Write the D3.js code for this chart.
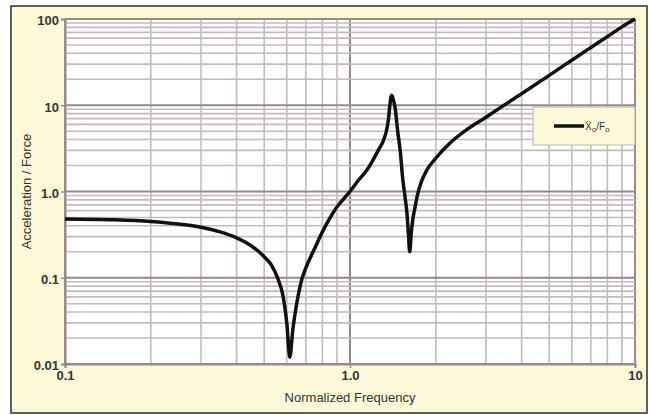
<!DOCTYPE html>
<html>
<head>
<meta charset="utf-8">
<script src="https://cdn.jsdelivr.net/npm/d3@7"></script>
<style>
  body { margin: 0; background: #ffffff; }
  svg { display: block; }
</style>
</head>
<body>
<svg id="chart" width="650" height="415"></svg>
<script>

// Normalized frequency (x) and acceleration / force (y)
const freq = [0.1, 0.15, 0.2, 0.25, 0.3, 0.35, 0.4, 0.45, 0.5, 0.53, 0.56, 0.58, 0.6, 0.615,
    0.63, 0.65, 0.677, 0.7, 0.75, 0.8, 0.85, 0.9, 0.95, 1.0, 1.07, 1.15, 1.22, 1.27, 1.31, 1.345,
    1.365, 1.38, 1.40, 1.415, 1.44, 1.47, 1.50, 1.53, 1.56, 1.585, 1.605, 1.62, 1.64, 1.66,
    1.69, 1.72, 1.78, 1.86, 2.0, 2.24, 2.56, 3.0, 3.36, 4.0, 5.0, 6.0, 7.0, 8.0, 9.0, 10];
const response = [0.48, 0.47, 0.45, 0.42, 0.385, 0.34, 0.29, 0.235, 0.175, 0.14, 0.095, 0.065, 0.03, 0.012,
    0.025, 0.05, 0.095, 0.13, 0.215, 0.34, 0.49, 0.66, 0.82, 1.0, 1.35, 1.8, 2.5, 3.2, 3.9, 5.2,
    7.0, 10.0, 13.1, 12.0, 9.3, 5.0, 3.0, 1.44, 0.86, 0.55, 0.3, 0.2, 0.33, 0.47,
    0.65, 0.88, 1.3, 1.77, 2.43, 3.62, 5.17, 7.27, 9.33, 13.6, 22.2, 33.3, 46.7, 62.5, 81.0, 100];

const xTickValues = [0.1, 1, 10];
const xTickLabels = ["0.1", "1.0", "10"];
const yTickValues = [0.01, 0.1, 1, 10, 100];
const yTickLabels = ["0.01", "0.1", "1.0", "10", "100"];

const svg = d3.select("#chart");
const margin = { top: 19, right: 15, bottom: 51, left: 65 };
const width = +svg.attr("width") - margin.left - margin.right;
const height = +svg.attr("height") - margin.top - margin.bottom;

// outer cream frame
svg.append("rect")
    .attr("x", 11).attr("y", 6)
    .attr("width", 636).attr("height", 407)
    .attr("fill", "#fdf9d8")
    .attr("stroke", "#2e2e2e")
    .attr("stroke-width", 1.5);

const chartArea = svg.append("g").attr("transform", `translate(${margin.left},${margin.top})`);

const xScale = d3.scaleLog().domain([0.1, 10]).range([0, width]);
const yScale = d3.scaleLog().domain([0.01, 100]).range([height, 0]);

chartArea.append("rect")
    .attr("width", width).attr("height", height)
    .attr("fill", "#ffffff");

// grid, minor first then decades on top
const isMajor = v => Math.abs(Math.log10(v) - Math.round(Math.log10(v))) < 1e-6;

chartArea.selectAll(".vgrid")
    .data(xScale.ticks())
    .enter().append("line")
    .attr("x1", d => xScale(d)).attr("x2", d => xScale(d))
    .attr("y1", 0).attr("y2", height)
    .attr("stroke", d => isMajor(d) ? "#968a8c" : "#c4babb")
    .attr("stroke-width", d => isMajor(d) ? 2 : 1.6);

chartArea.selectAll(".hgrid")
    .data(yScale.ticks())
    .enter().append("line")
    .attr("x1", 0).attr("x2", width)
    .attr("y1", d => yScale(d)).attr("y2", d => yScale(d))
    .attr("stroke", d => isMajor(d) ? "#968a8c" : "#c4babb")
    .attr("stroke-width", d => isMajor(d) ? 2 : 1.6);

// axes
const xAxis = d3.axisBottom(xScale).tickValues(xTickValues)
    .tickFormat((d, i) => xTickLabels[i]).tickSize(4).tickPadding(3);
const yAxis = d3.axisLeft(yScale).tickValues(yTickValues)
    .tickFormat((d, i) => yTickLabels[i]).tickSize(4).tickPadding(2);

const gx = chartArea.append("g")
    .attr("transform", `translate(0,${height})`)
    .call(xAxis);
const gy = chartArea.append("g").call(yAxis);

[gx, gy].forEach(g => {
    g.select(".domain").attr("stroke", "#968a8c").attr("stroke-width", 2);
    g.selectAll(".tick line").attr("stroke", "#968a8c").attr("stroke-width", 1.5);
    g.selectAll(".tick text")
        .attr("fill", "#333333")
        .style("font-family", "'Liberation Sans', Arial, sans-serif")
        .style("font-size", "13px")
        .style("font-weight", "bold");
});
gy.selectAll(".tick text").attr("dy", "0.45em");

// curve
const line = d3.line()
    .x((d, i) => xScale(freq[i]))
    .y(d => yScale(d))
    .curve(d3.curveMonotoneX);

chartArea.append("path")
    .datum(response)
    .attr("fill", "none")
    .attr("stroke", "#111111")
    .attr("stroke-width", 3.5)
    .attr("stroke-linejoin", "round")
    .attr("d", line);

// axis titles
svg.append("text")
    .attr("x", margin.left + width / 2).attr("y", 402)
    .attr("text-anchor", "middle")
    .attr("fill", "#333333")
    .style("font-family", "'Liberation Sans', Arial, sans-serif")
    .style("font-size", "13px")
    .text("Normalized Frequency");

svg.append("text")
    .attr("transform", `translate(31,${margin.top + height / 2}) rotate(-90)`)
    .attr("text-anchor", "middle")
    .attr("fill", "#333333")
    .style("font-family", "'Liberation Sans', Arial, sans-serif")
    .style("font-size", "13px")
    .text("Acceleration / Force");

// legend
const legend = svg.append("g").attr("transform", "translate(533,107)");
legend.append("rect")
    .attr("width", 102).attr("height", 38)
    .attr("fill", "#fdf9d8")
    .attr("stroke", "#b9b2a8")
    .attr("stroke-width", 1);
legend.append("line")
    .attr("x1", 21).attr("x2", 51)
    .attr("y1", 19).attr("y2", 19)
    .attr("stroke", "#111111")
    .attr("stroke-width", 3.5);
const lt = legend.append("text")
    .attr("x", 52).attr("y", 23)
    .attr("fill", "#333333")
    .style("font-family", "'Liberation Sans', Arial, sans-serif")
    .style("font-size", "10px");
lt.append("tspan").text("Ẍ");
lt.append("tspan").attr("dy", 2).style("font-size", "8px").text("o");
lt.append("tspan").attr("dy", -2).text("/F");
lt.append("tspan").attr("dy", 2).style("font-size", "8px").text("o");

</script>
</body>
</html>
